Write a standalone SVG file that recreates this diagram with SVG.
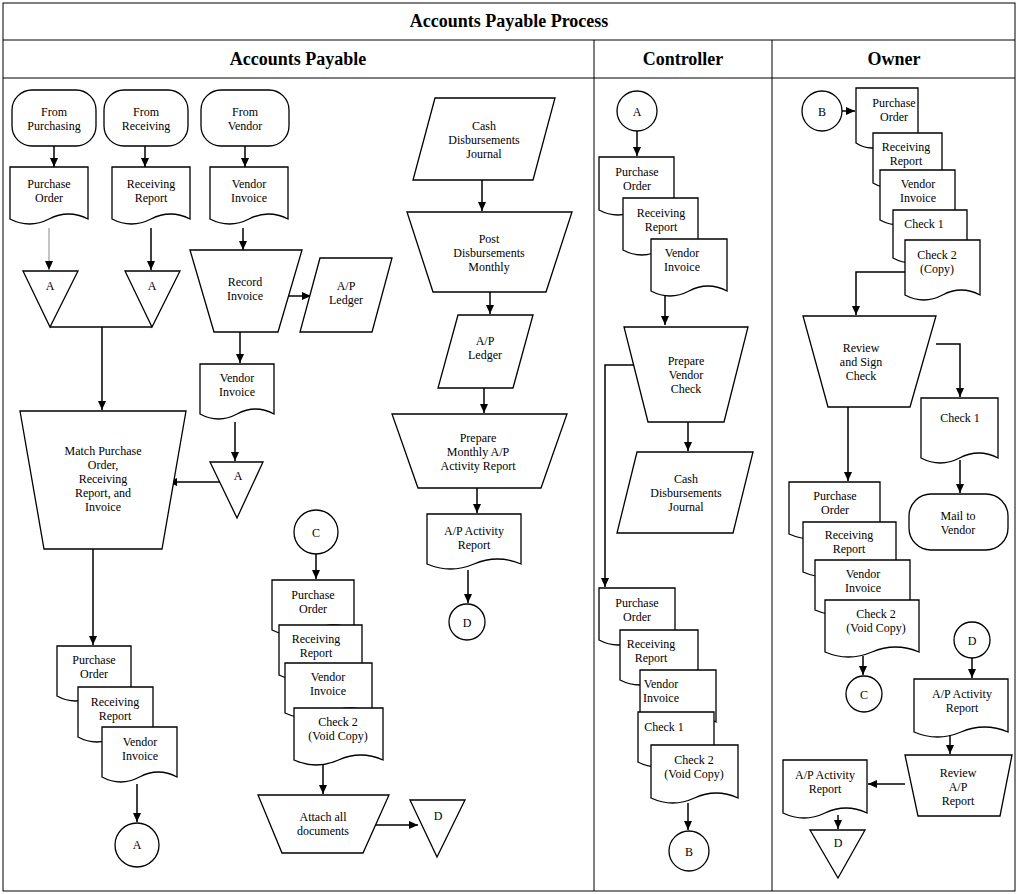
<svg xmlns="http://www.w3.org/2000/svg" width="1024" height="894" viewBox="0 0 1024 894">
<defs>
<marker id="ar" markerWidth="10" markerHeight="10" refX="9" refY="5" orient="auto" markerUnits="userSpaceOnUse"><path d="M0,1 L9,5 L0,9 z" fill="#000"/></marker>
<style>
.s{fill:#fff;stroke:#000;stroke-width:1.3}
.c line,.c polyline{stroke:#000;stroke-width:1.5;fill:none;marker-end:url(#ar)}
text{font-family:"Liberation Serif",serif;font-size:12px;text-anchor:middle}
.h{font-size:18px;font-weight:bold}
</style>
</defs>
<rect x="0" y="0" width="1024" height="894" fill="#fff"/>
<g fill="none" stroke="#000" stroke-width="1">
<rect x="3" y="3" width="1012" height="888"/>
<line x1="3" y1="40" x2="1015" y2="40"/>
<line x1="3" y1="78" x2="1015" y2="78"/>
<line x1="594" y1="40" x2="594" y2="891"/>
<line x1="772" y1="40" x2="772" y2="891"/>
</g>
<text class="h" x="509" y="27">Accounts Payable Process</text>
<text class="h" x="298" y="65">Accounts Payable</text>
<text class="h" x="683" y="65">Controller</text>
<text class="h" x="894" y="65">Owner</text>

<g class="c">
<line x1="54" y1="146" x2="54" y2="167"/>
<line x1="145" y1="146" x2="145" y2="167"/>
<line x1="245" y1="146" x2="245" y2="167"/>
<line x1="49" y1="228" x2="49" y2="270" style="stroke:#888;stroke-width:1"/>
<line x1="151" y1="228" x2="151" y2="270"/>
<line x1="243" y1="228" x2="243" y2="250"/>
<line x1="285" y1="296" x2="311" y2="296"/>
<polyline points="50,327 152,327" style="marker-end:none"/>
<line x1="102" y1="327" x2="102" y2="410"/>
<line x1="240" y1="332" x2="240" y2="363"/>
<line x1="235" y1="422" x2="235" y2="461"/>
<line x1="220" y1="482" x2="168" y2="482"/>
<line x1="93" y1="549" x2="93" y2="645"/>
<line x1="137" y1="784" x2="137" y2="822"/>
<line x1="482" y1="180" x2="482" y2="211"/>
<line x1="490" y1="292" x2="490" y2="314"/>
<line x1="484" y1="388" x2="484" y2="413"/>
<line x1="477" y1="488" x2="477" y2="513"/>
<line x1="468" y1="570" x2="468" y2="603"/>
<line x1="316" y1="554" x2="316" y2="579"/>
<line x1="323" y1="764" x2="323" y2="794"/>
<line x1="373" y1="825" x2="418" y2="825"/>
<line x1="637" y1="131" x2="637" y2="156"/>
<polyline points="665,296 665,325"/>
<line x1="688" y1="422" x2="688" y2="451"/>
<polyline points="636,365 605,365 605,587"/>
<line x1="688" y1="803" x2="688" y2="830"/>
<line x1="842" y1="111" x2="855" y2="111"/>
<polyline points="905,272 856,272 856,315"/>
<polyline points="936,344 960,344 960,397"/>
<line x1="960" y1="460" x2="960" y2="493"/>
<line x1="848" y1="407" x2="848" y2="481"/>
<line x1="863" y1="656" x2="863" y2="675"/>
<line x1="972" y1="658" x2="972" y2="678"/>
<line x1="950" y1="734" x2="950" y2="754"/>
<line x1="905" y1="784" x2="868" y2="784"/>
<line x1="838" y1="815" x2="838" y2="829"/>
</g>

<g id="from-purchasing"><rect class="s" x="12" y="90" width="84" height="56" rx="20"/><text x="54" y="116">From</text><text x="54" y="130">Purchasing</text></g>
<g id="from-receiving"><rect class="s" x="104" y="90" width="84" height="56" rx="20"/><text x="146" y="116">From</text><text x="146" y="130">Receiving</text></g>
<g id="from-vendor"><rect class="s" x="201" y="90" width="88" height="56" rx="20"/><text x="245" y="116">From</text><text x="245" y="130">Vendor</text></g>

<g id="po1"><path class="s" d="M10 167 h78 v52 q-19.5 -10 -39 0 t-39 0 z"/><text x="49" y="188">Purchase</text><text x="49" y="202">Order</text></g>
<g id="rr1"><path class="s" d="M112 167 h78 v52 q-19.5 -10 -39 0 t-39 0 z"/><text x="151" y="188">Receiving</text><text x="151" y="202">Report</text></g>
<g id="vi1"><path class="s" d="M210 167 h78 v52 q-19.5 -10 -39 0 t-39 0 z"/><text x="249" y="188">Vendor</text><text x="249" y="202">Invoice</text></g>

<g id="triA1"><polygon class="s" points="23,271 78,271 50,327"/><text x="50" y="290">A</text></g>
<g id="triA2"><polygon class="s" points="125,271 180,271 152,327"/><text x="152" y="290">A</text></g>

<g id="record-invoice"><polygon class="s" points="190,250 302,250 278,332 214,332"/><text x="245" y="286">Record</text><text x="245" y="300">Invoice</text></g>
<g id="ap-ledger1"><polygon class="s" points="320,258 392,258 372,332 300,332"/><text x="346" y="290">A/P</text><text x="346" y="304">Ledger</text></g>
<g id="vi2"><path class="s" d="M200 364 h74 v50 q-18.5 -10 -37 0 t-37 0 z"/><text x="237" y="382">Vendor</text><text x="237" y="396">Invoice</text></g>
<g id="triA3"><polygon class="s" points="210,462 263,462 237,518"/><text x="238" y="480">A</text></g>

<g id="match"><polygon class="s" points="20,411 186,411 162,549 44,549"/><text x="103" y="455">Match Purchase</text><text x="103" y="469">Order,</text><text x="103" y="483">Receiving</text><text x="103" y="497">Report, and</text><text x="103" y="511">Invoice</text></g>

<g id="po2"><path class="s" d="M57 646 h74 v50 q-18.5 -10 -37 0 t-37 0 z"/><text x="94" y="664">Purchase</text><text x="94" y="678">Order</text></g>
<g id="rr2"><path class="s" d="M78 687 h75 v50 q-18.75 -10 -37.5 0 t-37.5 0 z"/><text x="115" y="706">Receiving</text><text x="115" y="720">Report</text></g>
<g id="vi3"><path class="s" d="M102 727 h75 v50 q-18.75 -10 -37.5 0 t-37.5 0 z"/><text x="140" y="746">Vendor</text><text x="140" y="760">Invoice</text></g>
<g id="circA1"><circle class="s" cx="137" cy="845" r="22"/><text x="137" y="849">A</text></g>

<g id="cdj1"><polygon class="s" points="435,98 555,98 533,180 413,180"/><text x="484" y="130">Cash</text><text x="484" y="144">Disbursements</text><text x="484" y="158">Journal</text></g>
<g id="post"><polygon class="s" points="407,212 572,212 546,292 433,292"/><text x="489" y="243">Post</text><text x="489" y="257">Disbursements</text><text x="489" y="271">Monthly</text></g>
<g id="ap-ledger2"><polygon class="s" points="458,315 533,315 513,388 438,388"/><text x="485" y="345">A/P</text><text x="485" y="359">Ledger</text></g>
<g id="prepare-monthly"><polygon class="s" points="392,414 567,414 541,488 418,488"/><text x="478" y="442">Prepare</text><text x="478" y="456">Monthly A/P</text><text x="478" y="470">Activity Report</text></g>
<g id="apar1"><path class="s" d="M427 514 h94 v50 q-23.5 -10 -47 0 t-47 0 z"/><text x="474" y="535">A/P Activity</text><text x="474" y="549">Report</text></g>
<g id="circD1"><circle class="s" cx="467" cy="622" r="18"/><text x="467" y="627">D</text></g>

<g id="circC1"><circle class="s" cx="316" cy="532" r="22"/><text x="316" y="537">C</text></g>
<g id="po3"><path class="s" d="M272 580 h82 v50 q-20.5 -10 -41 0 t-41 0 z"/><text x="313" y="599">Purchase</text><text x="313" y="613">Order</text></g>
<g id="rr3"><path class="s" d="M279 625 h83 v50 q-20.75 -10 -41.5 0 t-41.5 0 z"/><text x="316" y="643">Receiving</text><text x="316" y="657">Report</text></g>
<g id="vi4"><path class="s" d="M285 663 h87 v50 q-21.75 -10 -43.5 0 t-43.5 0 z"/><text x="328" y="681">Vendor</text><text x="328" y="695">Invoice</text></g>
<g id="chk2v1"><path class="s" d="M294 708 h89 v52 q-22.25 -10 -44.5 0 t-44.5 0 z"/><text x="338" y="726">Check 2</text><text x="338" y="740">(Void Copy)</text></g>
<g id="attach"><polygon class="s" points="258,795 389,795 363,853 282,853"/><text x="323" y="821">Attach all</text><text x="323" y="835">documents</text></g>
<g id="triD1"><polygon class="s" points="410,800 465,800 437,857"/><text x="438" y="820">D</text></g>

<g id="circA2"><circle class="s" cx="637" cy="111" r="20"/><text x="637" y="116">A</text></g>
<g id="po4"><path class="s" d="M599 157 h75 v53 q-18.75 -10 -37.5 0 t-37.5 0 z"/><text x="637" y="176">Purchase</text><text x="637" y="190">Order</text></g>
<g id="rr4"><path class="s" d="M623 198 h75 v52 q-18.75 -10 -37.5 0 t-37.5 0 z"/><text x="661" y="217">Receiving</text><text x="661" y="231">Report</text></g>
<g id="vi5"><path class="s" d="M651 239 h76 v52 q-19 -10 -38 0 t-38 0 z"/><text x="682" y="257">Vendor</text><text x="682" y="271">Invoice</text></g>
<g id="prepare-check"><polygon class="s" points="624,327 748,327 724,422 648,422"/><text x="686" y="365">Prepare</text><text x="686" y="379">Vendor</text><text x="686" y="393">Check</text></g>
<g id="cdj2"><polygon class="s" points="637,452 753,452 733,533 617,533"/><text x="686" y="483">Cash</text><text x="686" y="497">Disbursements</text><text x="686" y="511">Journal</text></g>
<g id="po5"><path class="s" d="M599 588 h76 v52 q-19 -10 -38 0 t-38 0 z"/><text x="637" y="607">Purchase</text><text x="637" y="621">Order</text></g>
<g id="rr5"><path class="s" d="M620 630 h78 v50 q-19.5 -10 -39 0 t-39 0 z"/><text x="651" y="648">Receiving</text><text x="651" y="662">Report</text></g>
<g id="vi6"><path class="s" d="M640 670 h76 v52 q-19 -10 -38 0 t-38 0 z"/><text x="661" y="688">Vendor</text><text x="661" y="702">Invoice</text></g>
<g id="chk1c"><path class="s" d="M638 712 h76 v50 q-19 -10 -38 0 t-38 0 z"/><text x="664" y="731">Check 1</text></g>
<g id="chk2c"><path class="s" d="M651 745 h87 v53 q-21.75 -10 -43.5 0 t-43.5 0 z"/><text x="694" y="764">Check 2</text><text x="694" y="778">(Void Copy)</text></g>
<g id="circB1"><circle class="s" cx="689" cy="851" r="20"/><text x="689" y="856">B</text></g>

<g id="circB2"><circle class="s" cx="822" cy="111" r="20"/><text x="822" y="116">B</text></g>
<g id="po6"><path class="s" d="M856 88 h62 v55 q-15.5 -10 -31 0 t-31 0 z"/><text x="894" y="107">Purchase</text><text x="894" y="121">Order</text></g>
<g id="rr6"><path class="s" d="M873 133 h69 v50 q-17.25 -10 -34.5 0 t-34.5 0 z"/><text x="906" y="151">Receiving</text><text x="906" y="165">Report</text></g>
<g id="vi7"><path class="s" d="M880 170 h75 v50 q-18.75 -10 -37.5 0 t-37.5 0 z"/><text x="918" y="188">Vendor</text><text x="918" y="202">Invoice</text></g>
<g id="chk1o"><path class="s" d="M893 210 h74 v48 q-18.5 -10 -37 0 t-37 0 z"/><text x="924" y="228">Check 1</text></g>
<g id="chk2o"><path class="s" d="M905 240 h75 v55 q-18.75 -10 -37.5 0 t-37.5 0 z"/><text x="937" y="259">Check 2</text><text x="937" y="273">(Copy)</text></g>
<g id="review-sign"><polygon class="s" points="803,316 936,316 910,407 828,407"/><text x="861" y="352">Review</text><text x="861" y="366">and Sign</text><text x="861" y="380">Check</text></g>
<g id="chk1m"><path class="s" d="M921 398 h77 v60 q-19.25 -10 -38.5 0 t-38.5 0 z"/><text x="960" y="422">Check 1</text></g>
<g id="mail"><rect class="s" x="909" y="494" width="99" height="56" rx="22"/><text x="958" y="520">Mail to</text><text x="958" y="534">Vendor</text></g>
<g id="po7"><path class="s" d="M789 482 h91 v52 q-22.75 -10 -45.5 0 t-45.5 0 z"/><text x="835" y="500">Purchase</text><text x="835" y="514">Order</text></g>
<g id="rr7"><path class="s" d="M803 522 h93 v50 q-23.25 -10 -46.5 0 t-46.5 0 z"/><text x="849" y="539">Receiving</text><text x="849" y="553">Report</text></g>
<g id="vi8"><path class="s" d="M815 560 h95 v50 q-23.75 -10 -47.5 0 t-47.5 0 z"/><text x="863" y="578">Vendor</text><text x="863" y="592">Invoice</text></g>
<g id="chk2o2"><path class="s" d="M825 600 h94 v52 q-23.5 -10 -47 0 t-47 0 z"/><text x="876" y="618">Check 2</text><text x="876" y="632">(Void Copy)</text></g>
<g id="circC2"><circle class="s" cx="864" cy="694" r="18"/><text x="864" y="699">C</text></g>
<g id="circD2"><circle class="s" cx="972" cy="640" r="18"/><text x="972" y="645">D</text></g>
<g id="apar2"><path class="s" d="M914 679 h94 v53 q-23.5 -10 -47 0 t-47 0 z"/><text x="962" y="698">A/P Activity</text><text x="962" y="712">Report</text></g>
<g id="review-ap"><polygon class="s" points="905,755 1012,755 1000,816 918,816"/><text x="958" y="777">Review</text><text x="958" y="791">A/P</text><text x="958" y="805">Report</text></g>
<g id="apar3"><path class="s" d="M783 760 h84 v53 q-21 -10 -42 0 t-42 0 z"/><text x="825" y="779">A/P Activity</text><text x="825" y="793">Report</text></g>
<g id="triD2"><polygon class="s" points="810,830 865,830 838,878"/><text x="838" y="847">D</text></g>
</svg>
